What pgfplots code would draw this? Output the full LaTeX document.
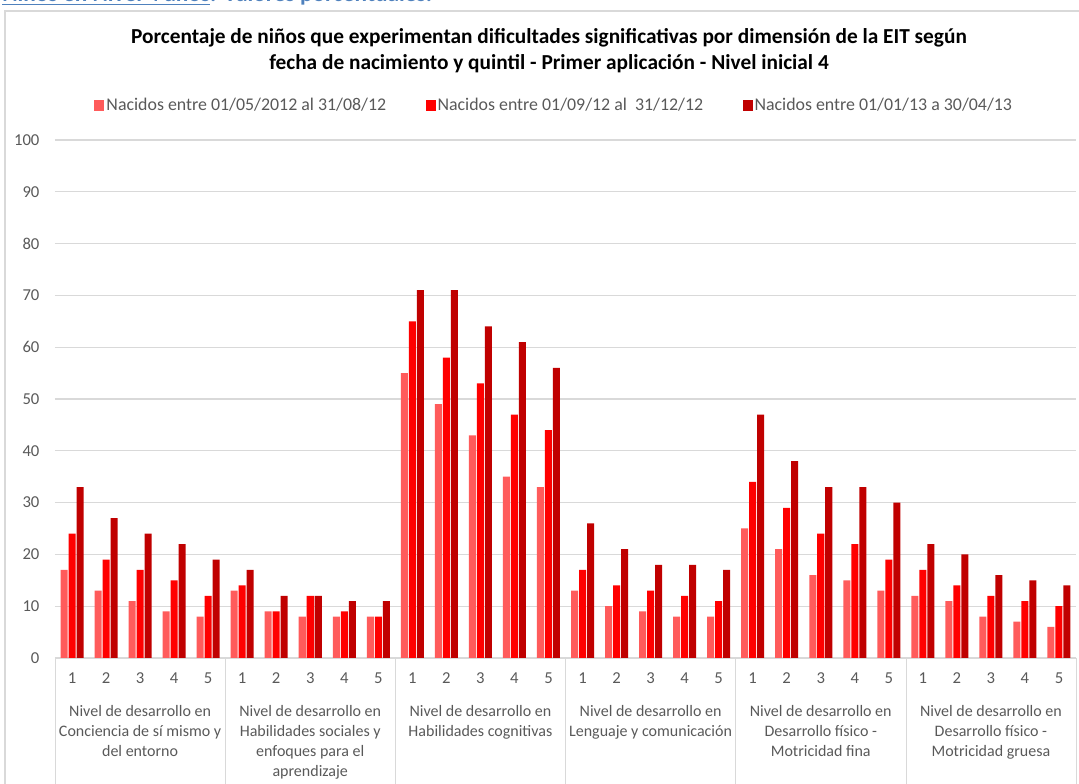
\documentclass[border=0pt]{standalone}
\usepackage{pgfplots}
\pgfplotsset{compat=1.18}
\usepackage{fontspec}
\setmainfont{Carlito}
\definecolor{c1}{HTML}{FF5B5B}
\definecolor{c2}{HTML}{FF0000}
\definecolor{c3}{HTML}{C00000}
\definecolor{txt}{HTML}{595959}
\definecolor{gridc}{HTML}{D9D9D9}
\definecolor{hdr}{HTML}{4F81BD}
\begin{document}
\begin{tikzpicture}[x=0.75pt,y=0.75pt]
\useasboundingbox (0,0) rectangle (1079,784);
\draw[gridc, line width=1.2pt] (5,-10) -- (5,773) -- (1090,773);
\node[anchor=base west, inner sep=0pt, font=\bfseries\fontsize{17.5}{20}\selectfont, text=hdr] at (2,782) {\underline{Niños en Nivel 4 años}. Valores porcentuales.};
\node[align=center, inner sep=0pt, font=\bfseries\fontsize{16}{19.2}\selectfont] at (549,733.5) {Porcentaje de niños que experimentan dificultades significativas por dimensión de la EIT según\\fecha de nacimiento y quintil - Primer aplicación - Nivel inicial 4};
\begin{axis}[
  at={(41.25pt,94.5pt)}, anchor=south west,
  width=765.75pt, height=388.5pt, scale only axis,
  xmin=-0.5, xmax=29.5, ymin=0, ymax=100,
  clip=false,
  axis line style={draw=none},
  major tick length=0pt, tick style={draw=none},
  ymajorgrids, grid style={gridc, line width=0.8pt},
  ytick={0,10,...,100},
  /pgf/number format/assume math mode=true,
  yticklabel style={text=txt, font=\fontsize{12.5}{14}\selectfont, inner sep=0pt, anchor=east, xshift=-11.5pt},
  xtick={0,...,29},
  xticklabels={1,2,3,4,5,1,2,3,4,5,1,2,3,4,5,1,2,3,4,5,1,2,3,4,5,1,2,3,4,5},
  xticklabel style={text=txt, font=\fontsize{12.5}{14}\selectfont, inner sep=0pt, anchor=base, yshift=-19.5pt},
  legend columns=3,
  legend style={at={(0.489,1.0666)}, anchor=center, draw=none, fill=none,
    font=\fontsize{13.4}{15}\selectfont, text=txt,
    /tikz/every even column/.append style={column sep=28pt},
    /tikz/every odd column/.append style={column sep=0pt},
    nodes={inner sep=1.5pt}},
  legend image code/.code={\fill[#1] (0pt,-4.1pt) rectangle (7.5pt,4.1pt);},
]
\addplot[ybar, bar width=0.206, bar shift=-0.235, fill=c1, draw=none] coordinates {
(0,17) (1,13) (2,11) (3,9) (4,8)
(5,13) (6,9) (7,8) (8,8) (9,8)
(10,55) (11,49) (12,43) (13,35) (14,33)
(15,13) (16,10) (17,9) (18,8) (19,8)
(20,25) (21,21) (22,16) (23,15) (24,13)
(25,12) (26,11) (27,8) (28,7) (29,6)};
\addlegendentry{Nacidos entre 01/05/2012 al 31/08/12}
\addplot[ybar, bar width=0.206, bar shift=0, fill=c2, draw=none] coordinates {
(0,24) (1,19) (2,17) (3,15) (4,12)
(5,14) (6,9) (7,12) (8,9) (9,8)
(10,65) (11,58) (12,53) (13,47) (14,44)
(15,17) (16,14) (17,13) (18,12) (19,11)
(20,34) (21,29) (22,24) (23,22) (24,19)
(25,17) (26,14) (27,12) (28,11) (29,10)};
\addlegendentry{Nacidos entre 01/09/12 al\ \ 31/12/12}
\addplot[ybar, bar width=0.206, bar shift=0.235, fill=c3, draw=none] coordinates {
(0,33) (1,27) (2,24) (3,22) (4,19)
(5,17) (6,12) (7,12) (8,11) (9,11)
(10,71) (11,71) (12,64) (13,61) (14,56)
(15,26) (16,21) (17,18) (18,18) (19,17)
(20,47) (21,38) (22,33) (23,33) (24,30)
(25,22) (26,20) (27,16) (28,15) (29,14)};
\addlegendentry{Nacidos entre 01/01/13 a 30/04/13}
\draw[gridc] (axis cs:-0.5,0) -- ++(0pt,-96pt);
\draw[gridc] (axis cs:4.5,0) -- ++(0pt,-96pt);
\draw[gridc] (axis cs:9.5,0) -- ++(0pt,-96pt);
\draw[gridc] (axis cs:14.5,0) -- ++(0pt,-96pt);
\draw[gridc] (axis cs:19.5,0) -- ++(0pt,-96pt);
\draw[gridc] (axis cs:24.5,0) -- ++(0pt,-96pt);
\draw[gridc] (axis cs:29.5,0) -- ++(0pt,-96pt);
\tikzset{grp/.style={anchor=north, align=center, text=txt, inner sep=0pt, font=\fontsize{12}{15}\selectfont, yshift=-35.5pt}}
\node[grp] at (axis cs:2,0) {Nivel de desarrollo en\\Conciencia de sí mismo y\\del entorno};
\node[grp] at (axis cs:7,0) {Nivel de desarrollo en\\Habilidades sociales y\\enfoques para el\\aprendizaje};
\node[grp] at (axis cs:12,0) {Nivel de desarrollo en\\Habilidades cognitivas};
\node[grp] at (axis cs:17,0) {Nivel de desarrollo en\\Lenguaje y comunicación};
\node[grp] at (axis cs:22,0) {Nivel de desarrollo en\\Desarrollo físico -\\Motricidad fina};
\node[grp] at (axis cs:27,0) {Nivel de desarrollo en\\Desarrollo físico -\\Motricidad gruesa};
\end{axis}
\end{tikzpicture}
\end{document}
